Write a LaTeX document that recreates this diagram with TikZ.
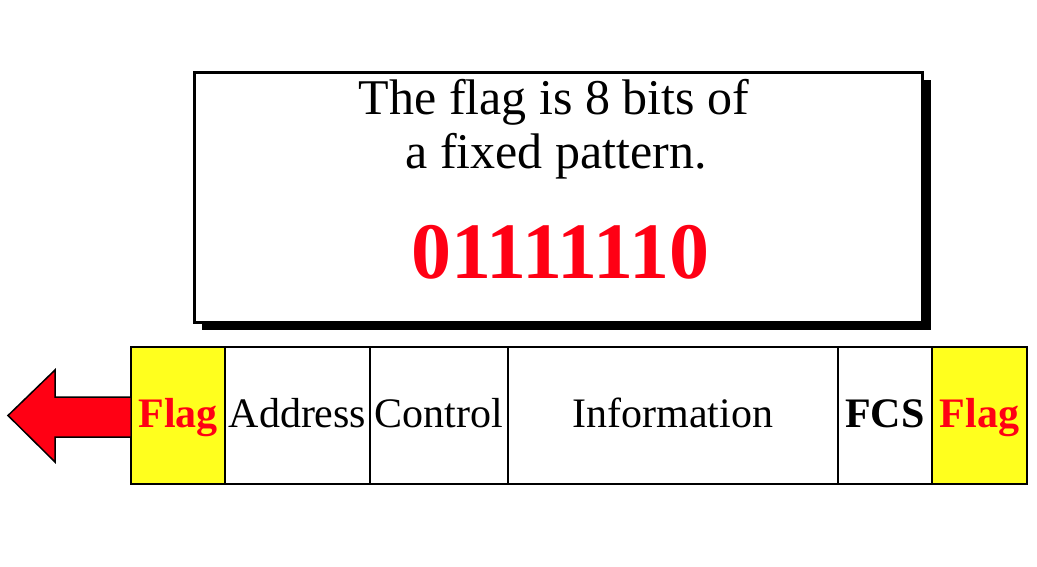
\documentclass[tikz,border=0pt]{standalone}
\usepackage{fontspec}
\setmainfont{Liberation Serif}
\usetikzlibrary{positioning}
\definecolor{flagyellow}{RGB}{255,255,30}
\definecolor{flagred}{RGB}{255,0,20}
\tikzset{
  cell/.style={draw,line width=1.6pt,fill=white,inner sep=0pt,outer sep=0pt,
    minimum height=137pt,text height=29pt,text depth=6pt,
    font=\fontsize{42}{48}\selectfont},
  flagcell/.style={cell,fill=flagyellow,text=flagred,font=\fontsize{42}{48}\selectfont\bfseries},
}
\begin{document}
\begin{tikzpicture}[x=1pt,y=-1pt]
      \useasboundingbox (0,0) rectangle (1037,566);
      % note box with shadow
      \fill (202,80) rectangle (931,330);
      \node[draw,line width=3pt,fill=white,minimum width=728pt,minimum height=250pt,
        inner sep=0pt,outer sep=0pt] (note) at (558,197) {};
      \node[anchor=base,font=\fontsize{50}{56}\selectfont] (line1) at (554,114) {The flag is 8 bits of};
      \node[anchor=base,font=\fontsize{50}{56}\selectfont] (line2) at (556,168) {a fixed pattern.};
      \node[anchor=base,text=flagred,font=\fontsize{80}{86}\selectfont\bfseries] (pattern) at (560,278) {01111110};
      % frame fields
      \node[flagcell,minimum width=94pt] (flagL) at (178,415.5) {Flag};
      \node[cell,minimum width=145pt,right=0pt of flagL] (addr) {Address};
      \node[cell,minimum width=138pt,right=0pt of addr] (ctrl) {Control};
      \node[cell,minimum width=330pt,right=0pt of ctrl] (info) {Information};
      \node[cell,minimum width=94pt,right=0pt of info,font=\fontsize{42}{48}\selectfont\bfseries] (fcs) {FCS};
      \node[flagcell,minimum width=95pt,right=0pt of fcs] (flagR) {Flag};
      % direction arrow
      \draw[line width=1.5pt,fill=flagred,line join=miter]
        ([yshift=18.5pt]flagL.west) -- ++(-76,0) -- ++(0,-27) -- ++(-47,45.5)
        -- ++(47,46.5) -- ++(0,-25) -- ++(76,0) -- cycle;
\end{tikzpicture}
\end{document}
